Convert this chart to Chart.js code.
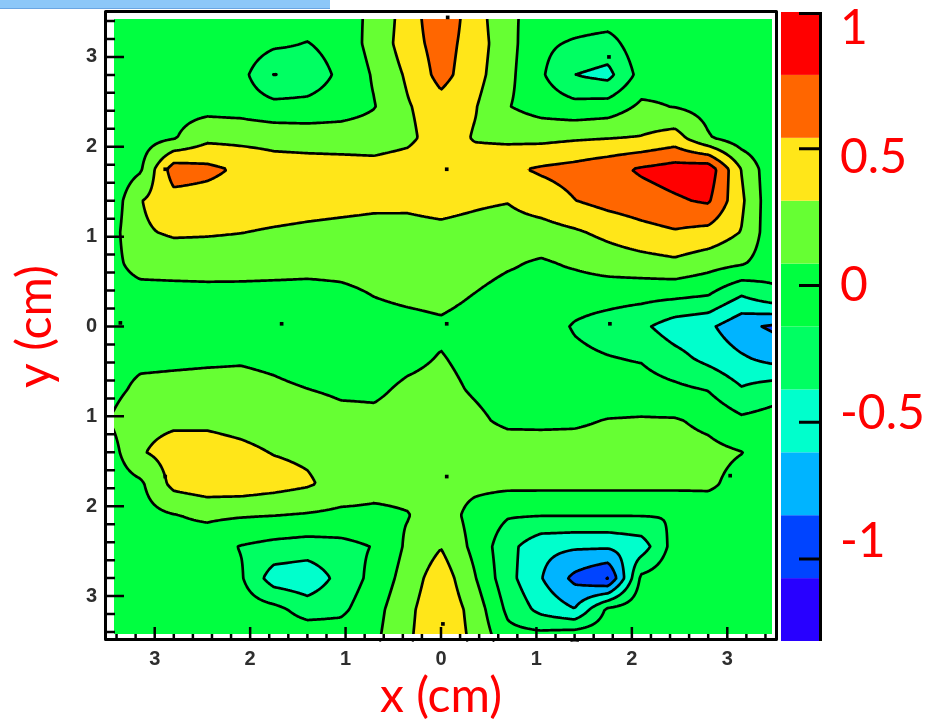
<!DOCTYPE html>
<html>
<head>
<meta charset="utf-8">
<script src="https://cdn.jsdelivr.net/npm/chart.js@4.4.1/dist/chart.umd.min.js"></script>
<style>
  html, body { margin: 0; padding: 0; background: #fff; }
  #wrap { position: relative; width: 927px; height: 725px; }
  #map { position: absolute; left: 0; top: 0; }
  #tab { position: absolute; left: 0; top: 0; width: 330px; height: 8px; background: #8cc7f8; border-bottom: 1px solid #6aa5e2; }
</style>
</head>
<body>
<div id="wrap">
  <canvas id="map" width="927" height="725"></canvas>
  <div id="tab"></div>
</div>
<script>
// grid nodes of the measured map (cm)
const xNodes = [-3.5, -3.15, -2.8, -2.45, -2.1, -1.75, -1.4, -1.05, -0.7, -0.35, 0,
                0.35, 0.7, 1.05, 1.4, 1.75, 2.1, 2.45, 2.8, 3.15, 3.5];
const yNodes = [3.5, 3.15, 2.8, 2.45, 2.1, 1.75, 1.4, 1.05, 0.7, 0.35, 0,
                -0.35, -0.7, -1.05, -1.4, -1.75, -2.1, -2.45, -2.8, -3.15, -3.5];

// z values, one row per yNode (top to bottom), one column per xNode
const zRows = [
  [0, 0, 0, 0, 0, 0, 0, 0, 0.12, 0.42, 0.72, 0.42, 0.12, 0, 0, 0, 0, 0, 0, 0, 0],
  [0, 0, 0, 0, 0, -0.1, -0.16, -0.05, 0.155, 0.43, 0.645, 0.43, 0.158, -0.1, -0.18, -0.24, 0, 0, 0, 0, 0],
  [0, 0, 0, 0, -0.072, -0.39, -0.3, -0.096, 0.104, 0.346, 0.62, 0.4, 0.14, -0.12, -0.38, -0.45, -0.06, 0, 0, 0, 0],
  [0, 0, 0, 0, -0.02, -0.08, -0.08, -0.03, 0.07, 0.29, 0.45, 0.33, 0.09, -0.02, -0.08, -0.05, 0.12, 0.07, 0, 0, 0],
  [-0.05, -0.02, 0.06, 0.25, 0.244, 0.228, 0.214, 0.199, 0.19, 0.25, 0.45, 0.29, 0.26, 0.25, 0.28, 0.3, 0.325, 0.41, 0.1, -0.05, -0.1],
  [-0.1, 0.05, 0.66, 0.6, 0.5, 0.42, 0.41, 0.41, 0.4, 0.44, 0.5, 0.44, 0.5, 0.57, 0.62, 0.7, 0.8, 0.87, 0.92, 0.3, -0.12],
  [-0.12, 0.3, 0.45, 0.44, 0.42, 0.41, 0.39, 0.37, 0.35, 0.345, 0.37, 0.34, 0.32, 0.425, 0.535, 0.62, 0.676, 0.74, 0.8, 0.35, -0.12],
  [-0.05, 0.28, 0.34, 0.33, 0.315, 0.29, 0.27, 0.257, 0.25, 0.257, 0.27, 0.248, 0.21, 0.216, 0.28, 0.37, 0.46, 0.52, 0.47, 0.3, -0.1],
  [0, 0.16, 0.176, 0.19, 0.185, 0.17, 0.155, 0.151, 0.168, 0.184, 0.2, 0.167, 0.106, 0.05, 0.11, 0.178, 0.218, 0.258, 0.17, 0.1, -0.05],
  [0, 0, 0, 0, 0, 0, 0, 0.03, 0.085, 0.12, 0.14, 0.075, 0, 0, -0.05, -0.06, -0.08, -0.1, -0.145, -0.37, -0.2],
  [0, 0, 0, 0, 0, 0, 0, 0, 0, 0.017, 0.047, 0, 0, -0.04, -0.17, -0.25, -0.33, -0.5, -0.56, -0.78, -0.88],
  [0, 0.03, 0.04, 0.05, 0.06, 0.04, 0, -0.02, 0, 0.04, 0.09, 0.03, 0, -0.03, -0.1, -0.14, -0.17, -0.3, -0.45, -0.58, -0.7],
  [0, 0.13, 0.14, 0.147, 0.142, 0.112, 0.082, 0.05, 0.05, 0.11, 0.13, 0.06, 0, 0, -0.05, -0.05, -0.05, -0.1, -0.16, -0.36, -0.25],
  [0.07, 0.25, 0.27, 0.27, 0.24, 0.21, 0.19, 0.136, 0.12, 0.15, 0.18, 0.12, 0.04, 0.04, 0.05, 0.09, 0.1, 0.1, 0.03, -0.1, -0.05],
  [-0.05, 0.29, 0.4, 0.4, 0.36, 0.3, 0.27, 0.22, 0.2, 0.2, 0.2, 0.2, 0.19, 0.18, 0.17, 0.17, 0.17, 0.16, 0.14, 0.085, -0.05],
  [-0.05, 0.04, 0.38, 0.45, 0.45, 0.4, 0.34, 0.22, 0.16, 0.15, 0.15, 0.14, 0.14, 0.14, 0.14, 0.14, 0.14, 0.14, 0.12, 0, -0.05],
  [-0.05, 0, 0.07, 0.12, 0.1, 0.085, 0.06, 0.03, 0.03, 0.07, 0.2, 0, -0.13, -0.14, -0.14, -0.14, -0.14, -0.14, -0.05, 0, 0],
  [0, 0, 0, -0.05, -0.16, -0.22, -0.25, -0.22, -0.14, 0.12, 0.3, 0.02, -0.3, -0.55, -0.58, -0.58, -0.5, -0.05, 0, 0, 0],
  [0, 0, 0, -0.03, -0.12, -0.5, -0.55, -0.3, -0.08, 0.18, 0.45, 0.1, -0.3, -0.6, -0.9, -1.09, -0.1, 0, 0, 0, 0],
  [0, 0, 0, 0, -0.03, -0.08, -0.25, -0.2, 0, 0.25, 0.5, 0.22, -0.2, -0.45, -0.6, -0.1, 0, 0, 0, 0, 0],
  [0, 0, 0, 0, 0, 0, 0.05, 0, 0.038, 0.276, 0.5, 0.259, -0.05, 0, 0.1, 0, 0, 0, 0, 0, 0]
];

// contour levels and fill colours (one colour per band)
const levels = [-1.3, -1.07, -0.84, -0.61, -0.38, -0.15, 0.08, 0.31, 0.54, 0.77, 1.0];
const bandColors = ['#2800ff', '#0044ff', '#00b4ff', '#00ffcc', '#00ff62', '#00ff40',
                    '#66ff33', '#ffe619', '#ff6600', '#ff0000'];

// axis ticks
const xMajor = [-3, -2, -1, 0, 1, 2, 3];
const xTickLabels = ['3', '2', '1', '0', '1', '2', '3'];
const yMajor = [-3, -2, -1, 0, 1, 2, 3];
const yTickLabels = ['3', '2', '1', '0', '1', '2', '3'];
const zMarks = [-1, -0.5, 0, 0.5, 1];
const zLabels = ['-1', '-0.5', '0', '0.5', '1'];

// probe positions (black markers)
const probeX = [0.06, 0.06, -1.67, 1.77, -2.89, -2.89, 0.06, 3.03, 1.76, -3.36, 0.07, 0.02];
const probeY = [1.75, 0.03, 0.03, 0.03, 1.75, -1.67, -1.67, -1.66, 3.0, 0.04, 3.44, -3.31];

const minorTicks = () => {
  const t = [];
  for (let k = -17; k <= 17; k++) t.push({ value: Math.round(k * 2) / 10 });
  return t;
};
const labelFor = (v, majors, labels) => {
  const i = majors.findIndex(m => Math.abs(m - v) < 1e-6);
  return i >= 0 ? labels[i] : '';
};

function locate(nodes, v) {
  const n = nodes.length;
  const asc = nodes[n - 1] > nodes[0];
  for (let i = 0; i < n - 1; i++) {
    const a = nodes[i], b = nodes[i + 1];
    if ((asc && v <= b) || (!asc && v >= b)) {
      const t = (v - a) / (b - a);
      return [i, Math.min(1, Math.max(0, t))];
    }
  }
  return [n - 2, 1];
}

function bandOf(v) {
  let k = 0;
  while (k < bandColors.length - 1 && v >= levels[k + 1]) k++;
  return k;
}

const hexRGB = h => [parseInt(h.slice(1, 3), 16), parseInt(h.slice(3, 5), 16), parseInt(h.slice(5, 7), 16)];
const bandRGB = bandColors.map(hexRGB);

const fieldPlugin = {
  id: 'field',
  beforeDatasetsDraw(chart) {
    const { ctx, chartArea: a, scales } = chart;
    const sx = scales.x, sy = scales.y;
    const left = Math.round(a.left), top = Math.round(a.top);
    const w = Math.round(a.right) - left, h = Math.round(a.bottom) - top;

    const cols = [], rows = [];
    for (let px = 0; px < w; px++) cols.push(locate(xNodes, sx.getValueForPixel(left + px + 0.5)));
    for (let py = 0; py < h; py++) rows.push(locate(yNodes, sy.getValueForPixel(top + py + 0.5)));
    const val = (ry, cx) => {
      const [r, t] = ry, [c, u] = cx;
      const z0 = zRows[r], z1 = zRows[r + 1];
      return (1 - t) * ((1 - u) * z0[c] + u * z0[c + 1]) + t * ((1 - u) * z1[c] + u * z1[c + 1]);
    };

    // filled bands
    const img = ctx.createImageData(w, h);
    for (let py = 0; py < h; py++) {
      for (let px = 0; px < w; px++) {
        const rgb = bandRGB[bandOf(val(rows[py], cols[px]))];
        const o = (py * w + px) * 4;
        img.data[o] = rgb[0]; img.data[o + 1] = rgb[1]; img.data[o + 2] = rgb[2]; img.data[o + 3] = 255;
      }
    }
    const off = document.createElement('canvas');
    off.width = w; off.height = h;
    off.getContext('2d').putImageData(img, 0, 0);
    ctx.drawImage(off, left, top);

    // contour lines (marching squares on a 2px sampling)
    const step = 2;
    const gw = Math.floor((w - 1) / step) + 1, gh = Math.floor((h - 1) / step) + 1;
    const g = new Float32Array(gw * gh);
    for (let r = 0; r < gh; r++)
      for (let c = 0; c < gw; c++) g[r * gw + c] = val(rows[r * step], cols[c * step]);

    ctx.save();
    ctx.beginPath();
    for (const L of levels.slice(1, -1)) {
      for (let r = 0; r < gh - 1; r++) {
        for (let c = 0; c < gw - 1; c++) {
          const v0 = g[r * gw + c], v1 = g[r * gw + c + 1];
          const v2 = g[(r + 1) * gw + c + 1], v3 = g[(r + 1) * gw + c];
          const b0 = v0 >= L, b1 = v1 >= L, b2 = v2 >= L, b3 = v3 >= L;
          if (b0 === b1 && b1 === b2 && b2 === b3) continue;
          const x0 = left + c * step + 0.5, y0 = top + r * step + 0.5;
          const x1 = x0 + step, y1 = y0 + step;
          const p = [];
          if (b0 !== b1) p.push([x0 + step * (L - v0) / (v1 - v0), y0]);
          if (b1 !== b2) p.push([x1, y0 + step * (L - v1) / (v2 - v1)]);
          if (b3 !== b2) p.push([x0 + step * (L - v3) / (v2 - v3), y1]);
          if (b0 !== b3) p.push([x0, y0 + step * (L - v0) / (v3 - v0)]);
          if (p.length >= 2) { ctx.moveTo(p[0][0], p[0][1]); ctx.lineTo(p[1][0], p[1][1]); }
          if (p.length === 4) { ctx.moveTo(p[2][0], p[2][1]); ctx.lineTo(p[3][0], p[3][1]); }
        }
      }
    }
    ctx.lineWidth = 2.7;
    ctx.strokeStyle = '#000';
    ctx.lineCap = 'round';
    ctx.lineJoin = 'round';
    ctx.stroke();

    // white margin inside the frame
    ctx.fillStyle = '#fff';
    ctx.fillRect(a.left, a.top, 7, a.bottom - a.top);
    ctx.fillRect(a.left, a.top, a.right - a.left, 7);
    ctx.fillRect(a.left, a.bottom - 7, a.right - a.left, 7);
    ctx.fillRect(a.right - 3, a.top, 3, a.bottom - a.top);

    // inward tick marks on left and bottom
    ctx.beginPath();
    sy.ticks.forEach(t => {
      const py = sy.getPixelForValue(t.value);
      const major = labelFor(t.value, yMajor, yTickLabels) !== '';
      ctx.moveTo(a.left, py);
      ctx.lineTo(a.left + (major ? 17 : 8), py);
    });
    sx.ticks.forEach(t => {
      const px = sx.getPixelForValue(t.value);
      const major = labelFor(t.value, xMajor, xTickLabels) !== '';
      ctx.moveTo(px, a.bottom);
      ctx.lineTo(px, a.bottom - (major ? 14 : 7));
    });
    ctx.lineWidth = 2.5;
    ctx.lineCap = 'butt';
    ctx.stroke();

    // frame
    ctx.lineWidth = 3;
    ctx.strokeRect(a.left - 1.5, a.top - 0.5, a.right - a.left + 3, a.bottom - a.top - 1);
    ctx.restore();
  },
  afterDatasetsDraw(chart) {
    // colour bar
    const { ctx, chartArea: a, scales } = chart;
    const z = scales.z;
    const x0 = a.right + 6, x1 = a.right + 44;
    ctx.save();
    for (let i = 0; i < bandColors.length; i++) {
      const yTop = z.getPixelForValue(levels[i + 1]);
      const yBot = z.getPixelForValue(levels[i]);
      ctx.fillStyle = bandColors[i];
      ctx.fillRect(x0, yTop, x1 - x0, yBot - yTop);
    }
    ctx.strokeStyle = '#000';
    ctx.lineWidth = 3;
    ctx.beginPath();
    ctx.moveTo(x1 + 1.5, a.top);
    ctx.lineTo(x1 + 1.5, a.bottom);
    zMarks.forEach(v => {
      const py = Math.max(a.top + 1.5, z.getPixelForValue(v));
      ctx.moveTo(x1 - 20, py);
      ctx.lineTo(x1 + 3, py);
    });
    ctx.stroke();
    ctx.restore();
  }
};

const tickFont = { family: "'Liberation Sans', Arial, sans-serif", size: 20, weight: 'bold' };
const titleFont = { family: "Lato, 'Open Sans', sans-serif", size: 48 };

new Chart(document.getElementById('map'), {
  type: 'scatter',
  data: {
    datasets: [{
      data: probeX.map((x, i) => ({ x, y: probeY[i] })),
      pointStyle: 'rect',
      pointRadius: 2.6,
      backgroundColor: '#000',
      borderWidth: 0
    }]
  },
  options: {
    responsive: false,
    animation: false,
    devicePixelRatio: 1,
    events: [],
    layout: { padding: { top: 12, left: 0, right: 0, bottom: 0 } },
    plugins: { legend: { display: false }, tooltip: { enabled: false } },
    scales: {
      x: {
        type: 'linear', position: 'bottom', min: -3.5, max: 3.5,
        afterBuildTicks: s => { s.ticks = minorTicks(); },
        afterFit: s => { s.height = 84; },
        ticks: {
          autoSkip: false, maxRotation: 0, padding: 0, color: '#2e2e2e', font: tickFont,
          callback: v => labelFor(v, xMajor, xTickLabels)
        },
        grid: { display: false, drawTicks: true, tickLength: 6 },
        border: { display: false },
        title: { display: true, text: 'x (cm)', color: '#ff0000', font: titleFont, padding: { top: 0, bottom: 0 } }
      },
      y: {
        type: 'linear', position: 'left', min: -3.5, max: 3.5,
        afterBuildTicks: s => { s.ticks = minorTicks(); },
        afterFit: s => { s.width = 107; },
        ticks: {
          autoSkip: false, padding: 0, color: '#2e2e2e', font: tickFont,
          callback: v => labelFor(v, yMajor, yTickLabels)
        },
        grid: { display: false, drawTicks: true, tickLength: 10 },
        border: { display: false },
        title: { display: true, text: 'y (cm)', color: '#ff0000', font: titleFont, padding: { top: 7, bottom: 0 } }
      },
      z: {
        type: 'linear', position: 'right', min: levels[0], max: levels[levels.length - 1],
        afterFit: s => { s.width = 0; },
        ticks: { display: false },
        grid: { display: false },
        border: { display: false }
      },
      zl: {
        type: 'linear', position: 'right', min: -1.389, max: 1.066,
        afterBuildTicks: s => { s.ticks = zMarks.map(v => ({ value: v })); },
        afterFit: s => { s.width = 152; },
        ticks: {
          padding: 0, color: '#ff0000',
          font: { family: "Lato, 'Open Sans', sans-serif", size: 48, lineHeight: 0.5 },
          callback: v => zLabels[zMarks.indexOf(v)]
        },
        grid: { display: false, drawTicks: true, tickLength: 65 },
        border: { display: false }
      }
    }
  },
  plugins: [fieldPlugin]
});
</script>
</body>
</html>
